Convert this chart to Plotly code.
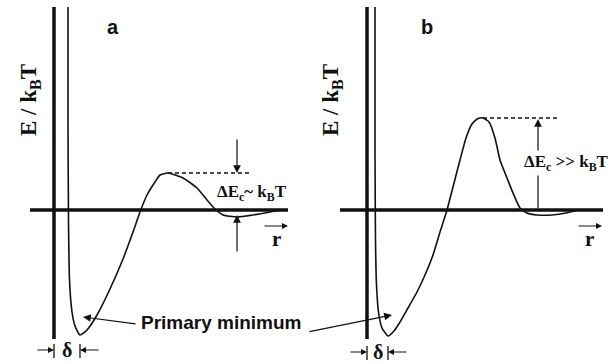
import plotly.graph_objects as go

# Interaction energy E/kBT versus separation r (arbitrary units), two regimes
r_a = [1.4, 1.4, 1.45, 1.55, 1.8, 2.1, 2.6, 3.3, 4.3, 5.6, 6.9, 7.9, 8.6, 9.3, 10.1,
       10.6, 11.4, 12.9, 14.3, 15.3, 16.1, 16.9, 18.3, 19.9, 21.6, 22.6]
E_a = [20.3, 9.0, -1.0, -7.0, -10.2, -11.6, -12.5, -12.0, -10.5, -7.9, -4.9, -2.2, -0.2, 1.5, 2.8,
       3.5, 3.7, 3.2, 2.2, 1.0, 0.1, -0.5, -0.7, -0.5, -0.2, 0.0]

r_b = [0.8, 0.8, 0.85, 0.95, 1.15, 1.5, 2.1, 2.7, 3.3, 4.1, 5.0, 5.8, 6.6, 7.3, 8.0, 8.6,
       9.3, 9.9, 10.5, 11.1, 11.6, 12.2, 12.8, 13.3, 14.0, 14.6, 15.3, 16.0, 17.0, 18.5, 19.9, 21.1]
E_b = [20.3, 6.0, -3.0, -7.5, -10.2, -11.8, -12.6, -12.1, -11.2, -9.8, -8.2, -6.5, -4.5, -2.2, 0.0, 2.3,
       5.0, 7.2, 8.6, 9.15, 9.2, 8.8, 7.2, 5.0, 3.2, 1.7, 0.2, -0.3, -0.5, -0.5, -0.3, 0.0]

# drawn extent of the r and E axes in each panel
r_axis_a = [-2.4, 23.4]
r_axis_b = [-2.7, 23.6]
E_axis = [-12.9, 20.3]

panel_labels = ["a", "b"]
barrier_labels = ["ΔE<sub>c</sub>~ k<sub>B</sub>T", "ΔE<sub>c</sub> >> k<sub>B</sub>T"]
y_title = "E\u00a0/\u00a0k<sub>B</sub>T"
min_label = "Primary minimum"

INK = "#111111"
SERIF = "Liberation Serif, Times New Roman, serif"
SANS = "Liberation Sans, Arial, sans-serif"
W, H = 613, 364

fig = go.Figure()
ann = []


def line(xs, ys, tr, width=1.6, **kw):
    fig.add_trace(go.Scatter(x=xs, y=ys, mode="lines", line=dict(color=INK, width=width, **kw),
                             xaxis="x" + tr, yaxis="y" + tr, hoverinfo="skip"))


def arrow(xr, yr, x, y, ax, ay, size=1.3):
    ann.append(dict(xref=xr, yref=yr, axref=xr, ayref=yr, x=x, y=y, ax=ax, ay=ay,
                    text="", showarrow=True, arrowhead=2, arrowsize=size,
                    arrowwidth=1.2, arrowcolor=INK, standoff=0, startstandoff=0))


def label(xr, yr, x, y, text, size, family, **kw):
    ann.append(dict(xref=xr, yref=yr, x=x, y=y, text=text, showarrow=False,
                    font=dict(family=family, size=size, color=INK, weight="bold"), **kw))


panels = [("x", "y", "", r_a, E_a, r_axis_a), ("x2", "y2", "2", r_b, E_b, r_axis_b)]
for i, (xr, yr, tr, rr, ee, r_ax) in enumerate(panels):
    # axes of the diagram
    line(r_ax, [0, 0], tr, width=3.5)
    line([0, 0], E_axis, tr, width=3.5)

    # energy profile
    line(rr, ee, tr, width=1.6, shape="spline", smoothing=0.5)

    # barrier = highest point beyond the primary well
    far = [(e, r) for r, e in zip(rr, ee) if r > 5]
    peak, r_peak = max(far)
    e_min = min(ee)
    r_min = rr[ee.index(e_min)]

    # barrier level (dashed)
    x_end = 19.6 if i == 0 else 19.0
    line([r_peak, x_end], [peak, peak], tr, width=1.5, dash="4px,3px")

    # δ width markers below the primary minimum
    dy = -14.0 if i == 0 else -14.2
    for rx in (0.0, r_min):
        line([rx, rx], [dy + 0.6, dy - 0.8], tr, width=1.3)
    arrow(xr, yr, 0.0, dy, -1.8, dy, 1.0)
    arrow(xr, yr, r_min, dy, r_min + 2.0, dy, 1.0)
    label(xr, yr, r_min / 2, dy, "δ", 20, SERIF)

    # panel letter and y title
    label(xr, yr, 5.9 if i == 0 else 6.0, 18.3, panel_labels[i], 20, SANS)
    label(xr, yr, -2.4 if i == 0 else -3.5, 11.0, y_title, 23, SERIF, textangle=-90)

    # r direction arrow
    arrow(xr, yr, 23.4 if i == 0 else 23.5, -1.6, 20.9 if i == 0 else 21.0, -1.6, 1.0)
    label(xr, yr, 22.2, -2.9, "r", 21, SERIF)

    if i == 0:
        # barrier comparable to kBT
        arrow(xr, yr, 18.3, peak, 18.3, peak + 3.5)
        arrow(xr, yr, 18.3, -0.5, 18.3, -4.3)
        label(xr, yr, 19.8, 1.7, barrier_labels[0], 17, SERIF)
    else:
        # barrier much larger than kBT
        arrow(xr, yr, 17.1, peak - 0.1, 17.1, 0.0)
        label(xr, yr, 19.9, 4.7, barrier_labels[1], 17, SERIF, bgcolor="white")

# primary minimum callout
label("paper", "paper", 221 / W, 1 - 335 / H, min_label, 19, SANS)
arrow("x", "y", 2.9, -10.7, 8.3, -11.4)
arrow("x2", "y2", 2.5, -10.5, -5.9, -12.2)

axis_common = dict(visible=False, showgrid=False, zeroline=False, fixedrange=True)

fig.update_layout(
    width=W, height=H,
    margin=dict(l=0, r=0, t=0, b=0),
    paper_bgcolor="white", plot_bgcolor="rgba(0,0,0,0)",
    showlegend=False,
    xaxis=dict(domain=[0, 306 / W], range=[-5.4, 25.2], anchor="y", **axis_common),
    yaxis=dict(domain=[0, 1], range=[-15.4, 21.0], anchor="x", **axis_common),
    xaxis2=dict(domain=[306 / W, 1], range=[-6.1, 24.6], anchor="y2", **axis_common),
    yaxis2=dict(domain=[0, 1], range=[-15.4, 21.0], anchor="x2", **axis_common),
    annotations=ann,
)

fig.write_html("out.html")
